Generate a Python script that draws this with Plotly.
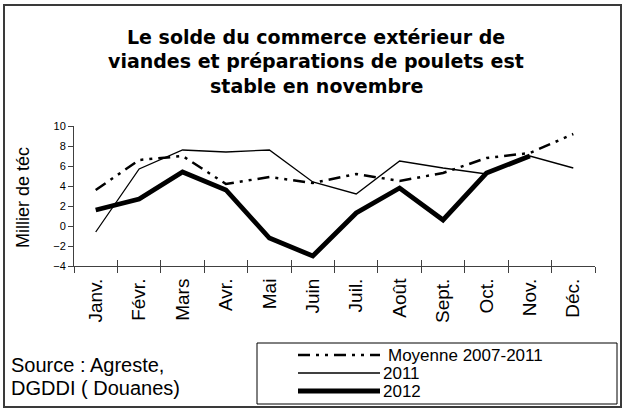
import plotly.graph_objects as go

# ---- data ----
months = ["Janv.", "Févr.", "Mars", "Avr.", "Mai", "Juin", "Juil.", "Août",
          "Sept.", "Oct.", "Nov.", "Déc."]
moyenne = [3.6, 6.6, 7.0, 4.2, 4.9, 4.3, 5.2, 4.5, 5.3, 6.8, 7.3, 9.2]
y2011 = [-0.6, 5.7, 7.6, 7.4, 7.6, 4.4, 3.2, 6.5, 5.8, 5.2, 7.0, 5.8]
y2012 = [1.6, 2.7, 5.4, 3.6, -1.2, -3.0, 1.3, 3.8, 0.6, 5.3, 7.0, None]
series_names = ["Moyenne 2007-2011", "2011", "2012"]
title_lines = ["Le solde du commerce extérieur de",
               "viandes et préparations de poulets est",
               "stable en novembre"]
source_lines = ["Source : Agreste,", "DGDDI ( Douanes)"]
y_title = "Millier de téc"
y_ticks = [-4, -2, 0, 2, 4, 6, 8, 10]

# ---- layout geometry (pixels) ----
W, H = 624, 410
L, R, T, B = 74, 29, 126, 144
PW, PH = W - L - R, H - T - B


def px(x):
    return (x - L) / PW


def py(y):
    return (H - B - y) / PH


DASH_MOY = "12px,6px,3px,6px,3px,6px"
styles = [dict(color="black", width=2.5, dash=DASH_MOY),
          dict(color="black", width=1.3),
          dict(color="black", width=4.8)]

fig = go.Figure()
for name, vals, st in zip(series_names, [moyenne, y2011, y2012], styles):
    fig.add_trace(go.Scatter(x=months, y=vals, mode="lines", name=name,
                             line=st, showlegend=False, connectgaps=False))

AX = "#404040"
fig.update_layout(
    width=W, height=H,
    margin=dict(l=L, r=R, t=T, b=B),
    paper_bgcolor="white", plot_bgcolor="white",
    font=dict(family="Liberation Sans, Arial, sans-serif", color="black"),
    xaxis=dict(type="category", tickson="boundaries", ticks="outside",
               ticklen=6, tickcolor=AX, showline=True, linecolor=AX,
               linewidth=1, showgrid=False, tickangle=-90,
               tickfont=dict(size=19, family="Liberation Sans, Arial",
                             color="black"),
               range=[-0.5, 11.5], ticklabelstandoff=4),
    xaxis2=dict(overlaying="x", anchor="y", range=[-0.5, 11.5], tick0=-0.5,
                dtick=1, ticks="inside", ticklen=6, tickcolor=AX,
                showticklabels=False, showgrid=False, zeroline=False,
                showline=False),
    yaxis=dict(range=[-4, 10], tickvals=y_ticks, ticks="outside", ticklen=5,
               tickcolor=AX, showline=True, linecolor=AX, linewidth=1,
               showgrid=False, zeroline=False,
               tickfont=dict(size=11, family="Liberation Sans, Arial",
                             color="black")),
)
fig.add_trace(go.Scatter(x=[None], y=[None], xaxis="x2", yaxis="y",
                         showlegend=False, hoverinfo="skip"))

annotations = []
for i, line in enumerate(title_lines):
    annotations.append(dict(text=line, x=px(316), y=py([37, 61, 86][i]),
                            xref="paper", yref="paper", showarrow=False,
                            xanchor="center", yanchor="middle",
                            font=dict(family="DejaVu Sans", size=19,
                                      color="black", weight="bold")))
for i, line in enumerate(source_lines):
    annotations.append(dict(text=line, x=px(9), y=py([365, 388][i]),
                            xref="paper", yref="paper", showarrow=False,
                            xanchor="left", yanchor="middle",
                            font=dict(family="Liberation Sans, Arial", size=20)))
annotations.append(dict(text=y_title, x=px(23), y=py(198), xref="paper",
                        yref="paper", showarrow=False, textangle=-90,
                        xanchor="center", yanchor="middle",
                        font=dict(family="Liberation Sans, Arial", size=18)))
# legend texts
leg_rows = [355, 373, 391]
leg_text_x = [386, 381, 381]
for name, yy, xx in zip(series_names, leg_rows, leg_text_x):
    annotations.append(dict(text=name, x=px(xx), y=py(yy), xref="paper",
                            yref="paper", showarrow=False, xanchor="left",
                            yanchor="middle",
                            font=dict(family="Liberation Sans, Arial", size=17)))
fig.update_layout(annotations=annotations)

shapes = [
    # outer frame
    dict(type="rect", xref="paper", yref="paper", x0=px(4), x1=px(621),
         y0=py(5), y1=py(407), line=dict(color="#3a3a3a", width=2)),
    # legend box
    dict(type="rect", xref="paper", yref="paper", x0=px(257), x1=px(617),
         y0=py(343), y1=py(404), line=dict(color="black", width=1)),
]
for st, yy in zip(styles, leg_rows):
    shapes.append(dict(type="line", xref="paper", yref="paper", x0=px(298),
                       x1=px(380), y0=py(yy), y1=py(yy), line=st))
fig.update_layout(shapes=shapes)

fig.write_html("out.html", config={"displayModeBar": False},
               post_script="document.body.style.margin='0';"
                           "document.body.style.overflow='hidden';")
